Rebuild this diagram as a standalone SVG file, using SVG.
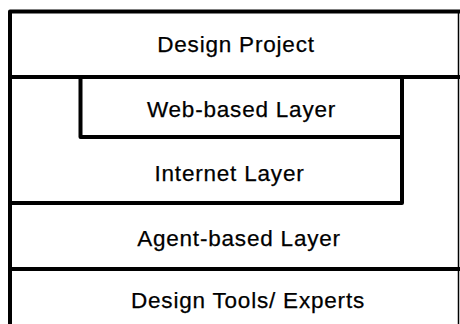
<svg xmlns="http://www.w3.org/2000/svg" width="460" height="324" viewBox="0 0 460 324">
<style>
.ln{fill:none;stroke:#000;stroke-width:4;stroke-linejoin:round;stroke-linecap:square}
.thin{fill:none;stroke:#000;stroke-width:1.5}
.t{font-family:"Liberation Sans",Arial,sans-serif;font-size:22.5px;letter-spacing:0.8px;fill:#000;stroke:#000;stroke-width:0.25;text-anchor:middle}
</style>
<rect width="460" height="324" fill="#fff"/>
<g id="outer">
<line class="thin" x1="458.5" y1="10" x2="458.5" y2="324"/>
</g>
<g id="design-project">
<path class="ln" d="M10,330 V11.5 H458"/>
<line class="ln" x1="10" y1="77" x2="458" y2="77"/>
<text class="t" x="236" y="52">Design Project</text>
</g>
<g id="web-based-layer">
<path class="ln" d="M80.5,79 V137 H402"/>
<text class="t" x="241.5" y="117">Web-based Layer</text>
</g>
<g id="internet-layer">
<path class="ln" d="M10,203 H402 V79"/>
<text class="t" x="229.5" y="181">Internet Layer</text>
</g>
<g id="agent-based-layer">
<line class="ln" x1="10" y1="269" x2="458" y2="269"/>
<text class="t" x="239" y="245.5">Agent-based Layer</text>
</g>
<g id="design-tools-experts">
<text class="t" x="248" y="308">Design Tools/ Experts</text>
</g>
</svg>
